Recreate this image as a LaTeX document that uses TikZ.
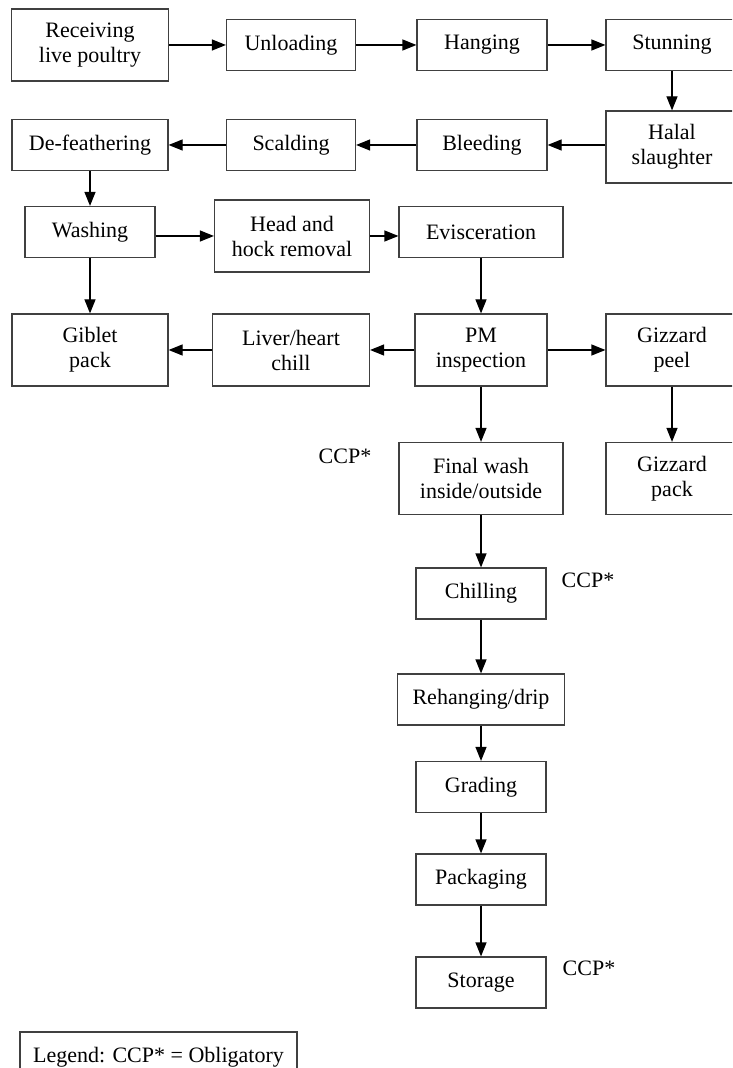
\documentclass[tikz,border=0pt]{standalone}
\usepackage{fontspec}
\setmainfont{Liberation Serif}
\usetikzlibrary{arrows.meta}

\begin{document}
\begin{tikzpicture}[x=0.5pt, y=-0.5pt,
  box/.style={rectangle, draw=black!75, line width=0.6pt, align=center, text centered, minimum width=65pt, minimum height=25.5pt, inner sep=1pt, font=\fontsize{11}{12.5}\selectfont},
  tall/.style={box, minimum height=36pt},
  flow/.style={line width=0.6pt, -{Triangle[length=7pt, width=5.5pt]}},
  note/.style={font=\fontsize{11}{12.5}\selectfont}]
\useasboundingbox (0,0) rectangle (732,1068);
\clip (0,0) rectangle (732,1068);

\node [tall, minimum width=78.5pt] (receiving) at (90,45) {Receiving\\ live poultry};
\node [box, minimum width=64.5pt] (unloading) at (291,45) {Unloading};
\node [box] (hanging) at (482,45) {Hanging};
\node [box, minimum width=66pt] (stunning) at (672,45) {Stunning};
\node [tall, minimum width=66pt] (halal) at (672,147) {Halal\\ slaughter};
\node [box] (bleeding) at (482,145) {Bleeding};
\node [box, minimum width=64.5pt] (scalding) at (291,145) {Scalding};
\node [box, minimum width=78pt] (defeathering) at (90,145) {De-feathering};
\node [box] (washing) at (90,232) {Washing};
\node [tall, minimum width=77.5pt] (headhock) at (292,236) {Head and\\ hock removal};
\node [box, minimum width=82pt] (evisceration) at (481,232) {Evisceration};
\node [tall, minimum width=78pt] (giblet) at (90,350) {Giblet\\ pack};
\node [tall, minimum width=78.5pt] (liver) at (291,350) {Liver/heart\\ chill};
\node [tall, minimum width=66pt] (pm) at (481,350) {PM\\ inspection};
\node [tall, minimum width=66pt] (gizzardpeel) at (672,350) {Gizzard\\ peel};
\node [tall, minimum width=82pt] (finalwash) at (481,478.5) {Final wash\\ inside/outside};
\node [tall, minimum width=66pt] (gizzardpack) at (672,478.5) {Gizzard\\ pack};
\node [box] (chilling) at (481,593.5) {Chilling};
\node [box, minimum width=83.5pt] (rehanging) at (481,699.5) {Rehanging/drip};
\node [box] (grading) at (481,787) {Grading};
\node [box] (packaging) at (481,879.5) {Packaging};
\node [box] (storage) at (481,982.5) {Storage};
\node [note] (ccpwash) at (345,456) {CCP*};
\node [note] (ccpchill) at (588,580) {CCP*};
\node [note] (ccpstore) at (589,968) {CCP*};
\node [box, minimum width=138.5pt, minimum height=25pt] (legend) at (158.5,1057) {Legend: CCP* = Obligatory};

\draw [flow] (receiving) -- (unloading);
\draw [flow] (unloading) -- (hanging);
\draw [flow] (hanging) -- (stunning);
\draw [flow] (stunning) -- (halal);
\draw [flow] (halal.west |- bleeding) -- (bleeding);
\draw [flow] (bleeding) -- (scalding);
\draw [flow] (scalding) -- (defeathering);
\draw [flow] (defeathering) -- (washing);
\draw [flow] (washing.east |- headhock) -- (headhock);
\draw [flow] (headhock) -- (headhock -| evisceration.west);
\draw [flow] (evisceration) -- (pm);
\draw [flow] (washing) -- (giblet);
\draw [flow] (pm) -- (liver);
\draw [flow] (liver) -- (giblet);
\draw [flow] (pm) -- (gizzardpeel);
\draw [flow] (gizzardpeel) -- (gizzardpack);
\draw [flow] (pm) -- (finalwash);
\draw [flow] (finalwash) -- (chilling);
\draw [flow] (chilling) -- (rehanging);
\draw [flow] (rehanging) -- (grading);
\draw [flow] (grading) -- (packaging);
\draw [flow] (packaging) -- (storage);

\end{tikzpicture}
\end{document}
